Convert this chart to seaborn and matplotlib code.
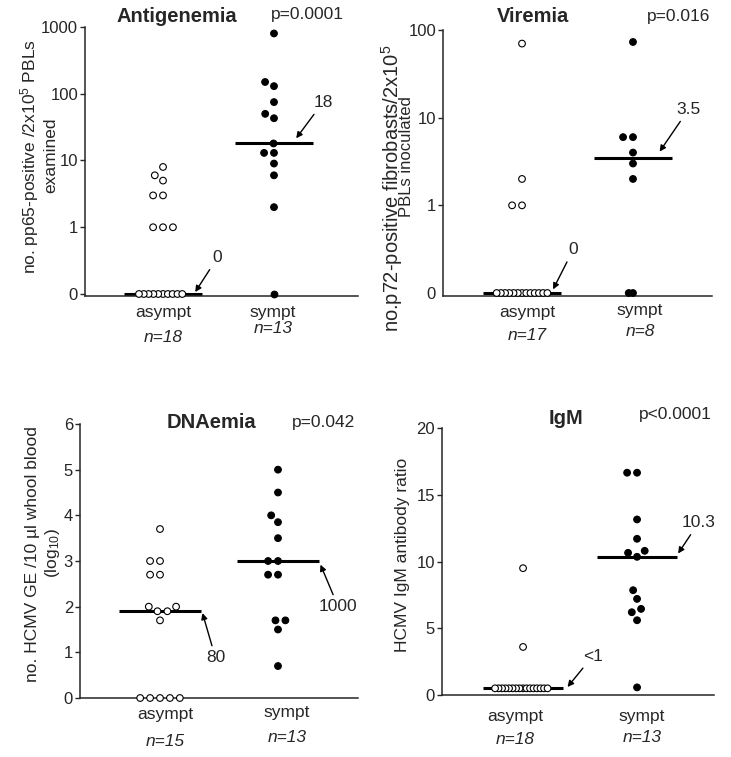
import warnings
import numpy as np
import pandas as pd
import matplotlib
matplotlib.use("Agg")
import matplotlib.pyplot as plt
from matplotlib.collections import PathCollection
from matplotlib.ticker import NullLocator
import seaborn as sns

warnings.filterwarnings("ignore")

# ---------------- data ----------------
groups = ["asympt", "sympt"]

antigen_asympt = [0] * 10 + [1, 1, 1, 3, 3, 5, 6, 8]
antigen_sympt = [0, 2, 6, 9, 13, 13, 18, 43, 50, 75, 130, 150, 800]
antigen_median = [0, 18]
antigen_n = ["n=18", "n=13"]
antigen_ticks = [0.1, 1, 10, 100, 1000]
antigen_ticklabels = ["0", "1", "10", "100", "1000"]

viremia_asympt = [0] * 13 + [1, 1, 2, 70]
viremia_sympt = [0, 0, 2, 3, 4, 6, 6, 73]
viremia_median = [0, 3.5]
viremia_n = ["n=17", "n=8"]
viremia_ticks = [0.1, 1, 10, 100]
viremia_ticklabels = ["0", "1", "10", "100"]

dna_asympt = [0] * 5 + [1.7, 1.9, 1.9, 2.0, 2.0, 2.7, 2.7, 3.0, 3.0, 3.7]
dna_sympt = [0.7, 1.5, 1.7, 1.7, 2.7, 2.7, 3.0, 3.0, 3.5, 3.85, 4.0, 4.5, 5.0]
dna_median = [1.9, 3.0]
dna_n = ["n=15", "n=13"]
dna_ticks = [0, 1, 2, 3, 4, 5, 6]

igm_asympt = [0.5] * 16 + [3.6, 9.5]
igm_sympt = [0.57, 5.6, 6.2, 6.45, 7.2, 7.85, 10.35, 10.65, 10.8, 11.7, 13.15, 16.65, 16.65]
igm_median = [0.55, 10.35]
igm_n = ["n=18", "n=13"]
igm_ticks = [0, 5, 10, 15, 20]

titles = ["Antigenemia", "Viremia", "DNAemia", "IgM"]
pvalues = ["p=0.0001", "p=0.016", "p=0.042", "p<0.0001"]
median_labels = [["0", "18"], ["0", "3.5"], ["80", "1000"], ["<1", "10.3"]]

# ---------------- style ----------------
sns.set_style("ticks")
plt.rcParams["font.family"] = ["Liberation Sans", "DejaVu Sans"]
plt.rcParams["mathtext.fontset"] = "custom"
plt.rcParams["mathtext.rm"] = "Liberation Sans"
plt.rcParams["mathtext.it"] = "Liberation Sans:italic"
plt.rcParams["mathtext.bf"] = "Liberation Sans:bold"

W, H = 731, 757
fig = plt.figure(figsize=(W / 100, H / 100), dpi=100)
palette = {"asympt": "white", "sympt": "black"}
S_REG = 6.0
DRAW_SIZE = 4.8
HALF = 0.35
FS = 12.5


def px_axes(l, r, t, b):
    return fig.add_axes([l / W, 1 - b / H, (r - l) / W, (b - t) / H])


def ftext(x, y, s, **kw):
    kw.setdefault("ha", "center")
    kw.setdefault("va", "center")
    fig.text(x / W, 1 - y / H, s, **kw)


def panel(ax, asym, sym, medians, log, floor, row_level, s_floor, ylim, xlim,
          yticks, yticklabels):
    vals = np.array(asym + sym, dtype=float)
    shown = np.where(vals <= 0, floor, vals) if log else vals
    df = pd.DataFrame({"group": ["asympt"] * len(asym) + ["sympt"] * len(sym),
                       "value": shown})
    at_row = df["value"] <= row_level
    for mask, s in [(at_row, s_floor), (~at_row, S_REG)]:
        sub = df[mask]
        if len(sub) == 0:
            continue
        sns.swarmplot(data=sub, x="group", y="value", hue="group", order=groups,
                      hue_order=groups, palette=palette, edgecolor="black",
                      linewidth=0.8, size=s, legend=False,
                      log_scale=(False, True) if log else None,
                      ax=ax, zorder=3, clip_on=False)
    for i, m in enumerate(medians):
        y = floor if (log and m <= 0) else m
        ax.plot([i - HALF, i + HALF], [y, y], color="black", lw=2.2,
                solid_capstyle="butt", zorder=2, clip_on=False)
    ax.set_ylim(ylim)
    ax.set_xlim(xlim)
    ax.set_yticks(yticks, yticklabels)
    ax.yaxis.set_minor_locator(NullLocator())
    ax.set_xticks([])
    ax.set_xlabel("")
    ax.set_ylabel("")
    sns.despine(ax=ax)
    for sp in ("left", "bottom"):
        ax.spines[sp].set_linewidth(1.1)
    ax.tick_params(axis="y", length=3.5, width=1, pad=1.5, labelsize=12,
                   direction="out")


def note(ax, label, xy, xytext):
    ax.annotate(label, xy=xy, xytext=xytext, textcoords="data", ha="center",
                va="center", fontsize=FS,
                arrowprops=dict(arrowstyle="-|>", color="black", lw=1,
                                mutation_scale=9, shrinkA=1, shrinkB=0))


# ---------- Panel 1: Antigenemia ----------
ax1 = px_axes(85, 358, 27, 296)
panel(ax1, antigen_asympt, antigen_sympt, antigen_median, True, 0.1, 0.1, 2.5,
      (10 ** -1.03, 1000), (-0.703, 1.757), antigen_ticks, antigen_ticklabels)
note(ax1, median_labels[0][1], (1.2, 21.5), (1.44, 74))
note(ax1, median_labels[0][0], (0.29, 0.107), (0.49, 0.35))

# ---------- Panel 2: Viremia ----------
ax2 = px_axes(443, 712, 30, 296)
panel(ax2, viremia_asympt, viremia_sympt, viremia_median, True, 0.1, 0.1, 2.1,
      (10 ** -1.034, 100), (-0.712, 1.712), viremia_ticks, viremia_ticklabels)
ax2.yaxis.get_major_ticks()[0].tick1line.set_visible(False)
note(ax2, median_labels[1][1], (1.24, 4.1), (1.50, 12.4))
note(ax2, median_labels[1][0], (0.28, 0.11), (0.46, 0.31))

# ---------- Panel 3: DNAemia ----------
ax3 = px_axes(80, 358, 424, 698)
panel(ax3, dna_asympt, dna_sympt, dna_median, False, 0, 0, S_REG,
      (0, 6), (-0.678, 1.678), dna_ticks, [str(t) for t in dna_ticks])
note(ax3, median_labels[2][0], (0.36, 1.86), (0.47, 0.88))
note(ax3, median_labels[2][1], (1.36, 2.92), (1.51, 2.0))

# ---------- Panel 4: IgM ----------
ax4 = px_axes(442, 714, 428, 695)
panel(ax4, igm_asympt, igm_sympt, igm_median, False, 0, 0.5, 1.6,
      (0, 20), (-0.711, 1.675), igm_ticks, [str(t) for t in igm_ticks])
note(ax4, median_labels[3][1], (1.36, 10.6), (1.54, 12.9))
note(ax4, median_labels[3][0], (0.39, 0.6), (0.61, 2.9))

# ---------- titles / p-values ----------
ftext(177, 17, titles[0], fontsize=14.5, fontweight="bold")
ftext(307, 15, pvalues[0], fontsize=FS)
ftext(533, 17, titles[1], fontsize=14.5, fontweight="bold")
ftext(679, 16, pvalues[1], fontsize=FS)
ftext(211, 423, titles[2], fontsize=14.5, fontweight="bold")
ftext(324, 423, pvalues[2], fontsize=FS)
ftext(566, 418, titles[3], fontsize=14.5, fontweight="bold")
ftext(675, 415, pvalues[3], fontsize=FS)

# ---------- category labels ----------
cat_pos = [
    [(163, 312, 163, 337), (273, 313, 273, 328)],
    [(527, 312, 527, 335), (640, 310, 640, 332)],
    [(165, 715, 165, 742), (287, 713, 287, 738)],
    [(515, 717, 515, 740), (642, 717, 642, 738)],
]
n_labels = [antigen_n, viremia_n, dna_n, igm_n]
for p in range(4):
    for g in range(2):
        gx, gy, nx, ny = cat_pos[p][g]
        ftext(gx, gy, groups[g], fontsize=FS)
        ftext(nx, ny, n_labels[p][g], fontsize=FS, style="italic")

# ---------- y labels ----------
ftext(30, 157, "no. pp65-positive /2x10$^5$ PBLs", fontsize=FS, rotation=90)
ftext(51, 155, "examined", fontsize=FS, rotation=90)
ftext(392, 188, "no.p72-positive fibrobasts/2x10$^5$", fontsize=14.5, rotation=90)
ftext(407, 157, "PBLs inoculated", fontsize=12, rotation=90)
ftext(33, 554, "no. HCMV GE /10 \u00b5l whool blood", fontsize=FS, rotation=90)
ftext(52, 553, "(log$_{10}$)", fontsize=FS, rotation=90)
ftext(402, 555, "HCMV IgM antibody ratio", fontsize=FS, rotation=90)

# ---------- freeze swarm layout, then draw markers at display size ----------
fig.canvas.draw()
for ax in (ax1, ax2, ax3, ax4):
    for c in ax.collections:
        if isinstance(c, PathCollection):
            c.__dict__.pop("draw", None)
            if len(c.get_offsets()) == 0:
                c.set_visible(False)
            else:
                c.set_sizes([DRAW_SIZE ** 2])

fig.savefig("out.png", dpi=100)
